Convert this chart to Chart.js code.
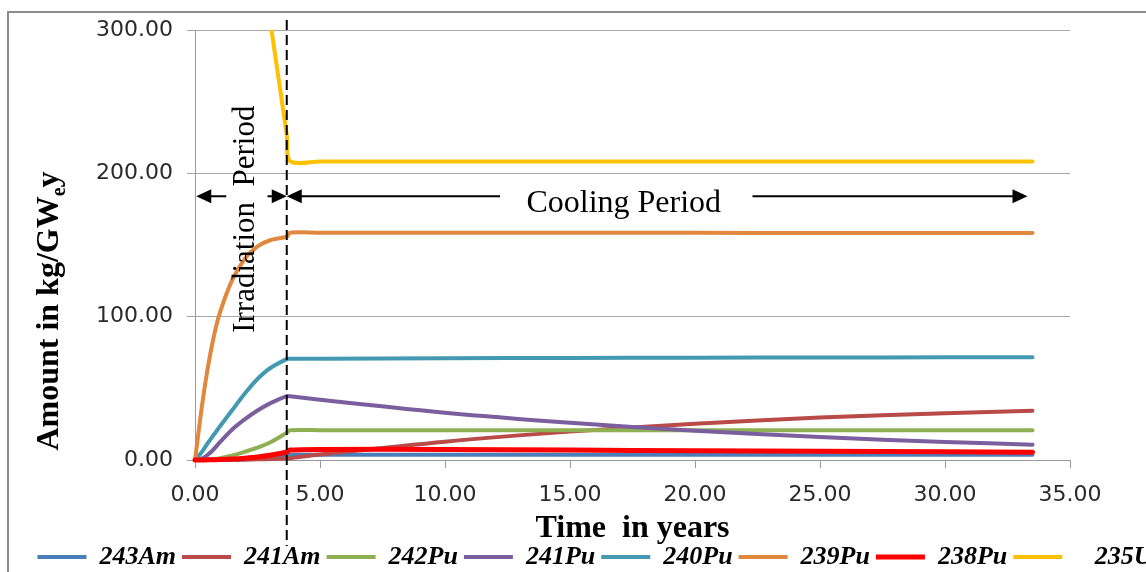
<!DOCTYPE html>
<html>
<head>
<meta charset="utf-8">
<script src="https://cdn.jsdelivr.net/npm/chart.js@4.4.1/dist/chart.umd.min.js"></script>
<style>
  html, body { margin: 0; padding: 0; background: #fff; overflow: hidden; width: 1146px; height: 572px; }
  .frame { position: absolute; left: 7px; top: 11px; width: 1300px; height: 700px;
           border-left: 2px solid #8c8c8c; border-top: 2px solid #8c8c8c; }
  #chart { position: absolute; left: 0; top: 0; }
</style>
</head>
<body>
<div class="frame"></div>
<canvas id="chart" width="1190" height="580"></canvas>
<script>
// time in years; irradiation ends at 3.67 y, then cooling
const years  = [0, 0.25, 0.5, 0.75, 1, 1.5, 2, 2.5, 3, 3.67, 3.8, 5, 10, 15, 20, 25, 30, 33.5];
const am243  = [0, 0, 0, 0, 0, 0.1, 0.4, 0.9, 1.7, 3.2, 3.6, 3.7, 3.7, 3.7, 3.7, 3.7, 3.7, 3.7];
const am241  = [0, 0, 0, 0.05, 0.1, 0.2, 0.3, 0.5, 0.7, 1.0, 1.2, 3.8, 12.8, 19.8, 25.3, 29.6, 32.6, 34.3];
const pu242  = [0, 0, 0.3, 0.7, 1.3, 3.2, 5.8, 8.6, 12.2, 19.0, 20.8, 20.8, 20.8, 20.8, 20.8, 20.8, 20.8, 20.8];
const pu241  = [0, 0.8, 3.5, 7.5, 12.5, 21.5, 28.5, 34.5, 39.5, 44.6, 44.4, 42.0, 33.0, 26.0, 20.4, 16.0, 12.6, 10.7];
const pu240  = [0, 5, 11.5, 17.5, 23.5, 35, 46.5, 56.5, 64, 70.4, 70.6, 70.7, 71.0, 71.2, 71.4, 71.5, 71.6, 71.7];
const pu239  = [0, 34, 63, 86, 103, 126, 140.5, 149, 153.3, 155.8, 158.5, 158.6, 158.6, 158.5, 158.5, 158.4, 158.4, 158.3];
const pu238  = [0, 0, 0.1, 0.2, 0.3, 0.7, 1.3, 2.1, 3.3, 5.6, 6.9, 7.4, 7.3, 6.9, 6.5, 6.1, 5.7, 5.4];
const u235   = [665, null, null, null, null, null, null, null, null, 227, 208.5, 208.3, 208.3, 208.3, 208.3, 208.3, 208.3, 208.3];

const xTicks = [0, 5, 10, 15, 20, 25, 30, 35];
const yTicks = [0, 100, 200, 300];

const irradiationEnd = 3.67;
const arrowLevel = 184;

const series = [
  { label: '243Am', values: am243, color: '#4a7ebb' },
  { label: '241Am', values: am241, color: '#b84a47' },
  { label: '242Pu', values: pu242, color: '#8fb052' },
  { label: '241Pu', values: pu241, color: '#7b5e9e' },
  { label: '240Pu', values: pu240, color: '#4499b2' },
  { label: '239Pu', values: pu239, color: '#e0883e' },
  { label: '238Pu', values: pu238, color: '#ff0000' },
  { label: '   235U', values: u235, color: '#ffc000' }
];

const serif = 'Liberation Serif, Times New Roman, serif';
const sans = 'DejaVu Sans, sans-serif';

function arrow(ctx, from, to, y) {
  const dir = Math.sign(to - from);
  ctx.beginPath();
  ctx.moveTo(from, y);
  ctx.lineTo(to - dir * 10, y);
  ctx.stroke();
  ctx.beginPath();
  ctx.moveTo(to, y);
  ctx.lineTo(to - dir * 15, y - 7);
  ctx.lineTo(to - dir * 15, y + 7);
  ctx.closePath();
  ctx.fill();
}

const periodMarks = {
  id: 'periodMarks',
  afterDatasetsDraw(chart) {
    const { ctx, chartArea, scales: { x, y } } = chart;
    const xEnd = x.getPixelForValue(irradiationEnd);
    const ay = y.getPixelForValue(arrowLevel);
    ctx.save();
    ctx.strokeStyle = '#000';
    ctx.fillStyle = '#000';
    ctx.lineWidth = 2;
    ctx.setLineDash([10, 5]);
    ctx.beginPath();
    ctx.moveTo(xEnd, chartArea.top - 10);
    ctx.lineTo(xEnd, chartArea.bottom + 86);
    ctx.stroke();
    ctx.setLineDash([]);

    arrow(ctx, x.getPixelForValue(1.25), x.getPixelForValue(0.05), ay);
    arrow(ctx, x.getPixelForValue(2.9), xEnd, ay);
    arrow(ctx, x.getPixelForValue(12.2), xEnd, ay);
    arrow(ctx, x.getPixelForValue(22.3), x.getPixelForValue(33.3), ay);

    ctx.font = '32px ' + serif;
    ctx.textAlign = 'center';
    ctx.textBaseline = 'alphabetic';
    ctx.fillText('Cooling Period', x.getPixelForValue(17.15), ay + 16);

    ctx.translate(x.getPixelForValue(irradiationEnd / 2) + 13, y.getPixelForValue(168));
    ctx.rotate(-Math.PI / 2);
    ctx.font = '31px ' + serif;
    ctx.fillText('Irradiation  Period', 0, 0);
    ctx.restore();
  }
};

// y title with subscript "e"
const yTitle = {
  id: 'yTitle',
  afterDraw(chart) {
    const { ctx } = chart;
    const parts = [['Amount in kg/GW', 32, 0], ['e', 20, 7], ['y', 32, 0]];
    ctx.save();
    ctx.translate(58, 311);
    ctx.rotate(-Math.PI / 2);
    ctx.fillStyle = '#000';
    ctx.textBaseline = 'alphabetic';
    ctx.textAlign = 'left';
    let total = 0;
    parts.forEach(p => { ctx.font = 'bold ' + p[1] + 'px ' + serif; total += ctx.measureText(p[0]).width; });
    let cx = -total / 2;
    parts.forEach(p => {
      ctx.font = 'bold ' + p[1] + 'px ' + serif;
      ctx.fillText(p[0], cx, p[2]);
      cx += ctx.measureText(p[0]).width;
    });
    ctx.restore();
  }
};

new Chart(document.getElementById('chart'), {
  type: 'line',
  data: {
    datasets: series.map((s, i) => ({
      label: s.label,
      data: years.map((t, k) => ({ x: t, y: s.values[k] })),
      borderColor: s.color,
      backgroundColor: s.color,
      borderWidth: s.label === '238Pu' ? 5 : 4,
      borderCapStyle: 'round',
      borderJoinStyle: 'round',
      pointRadius: 0,
      tension: 0.3,
      spanGaps: true,
      order: series.length - 1 - i,
      clip: { left: 5, right: 5, top: 0, bottom: 5 }
    }))
  },
  options: {
    responsive: false,
    animation: false,
    devicePixelRatio: 1,
    layout: { padding: { top: 30, left: 0, right: 0, bottom: 0 } },
    scales: {
      x: {
        type: 'linear', min: 0, max: 35,
        afterBuildTicks: s => { s.ticks = xTicks.map(v => ({ value: v })); },
        ticks: { padding: 14, color: '#2a2a2a', font: { family: sans, size: 22 }, callback: v => v.toFixed(2) },
        grid: { drawOnChartArea: false, tickLength: 8, color: '#9a9a9a' },
        border: { color: '#9a9a9a' },
        title: { display: true, text: 'Time  in years', color: '#000', padding: 0,
                 font: { family: serif, size: 32, weight: 'bold', lineHeight: 0.6 } },
        afterFit: s => { s.height = 78; }
      },
      y: {
        min: 0, max: 300,
        afterBuildTicks: s => { s.ticks = yTicks.map(v => ({ value: v })); },
        ticks: { padding: 14, color: '#2a2a2a', font: { family: sans, size: 22 }, callback: v => v.toFixed(2) },
        grid: { color: '#a6a6a6', tickLength: 8 },
        border: { color: '#9a9a9a' },
        afterFit: s => { s.width = 195; }
      },
      y2: {
        position: 'right',
        grid: { display: false },
        ticks: { display: false },
        border: { display: false },
        afterFit: s => { s.width = 120; }
      }
    },
    plugins: {
      tooltip: { enabled: false },
      legend: {
        position: 'bottom',
        labels: {
          usePointStyle: true, pointStyle: 'line', pointStyleWidth: 49,
          padding: 6, color: '#000',
          font: { family: serif, size: 26, weight: 'bold', style: 'italic' },
          sort: (a, b) => a.datasetIndex - b.datasetIndex
        }
      }
    }
  },
  plugins: [periodMarks, yTitle]
});
</script>
</body>
</html>
